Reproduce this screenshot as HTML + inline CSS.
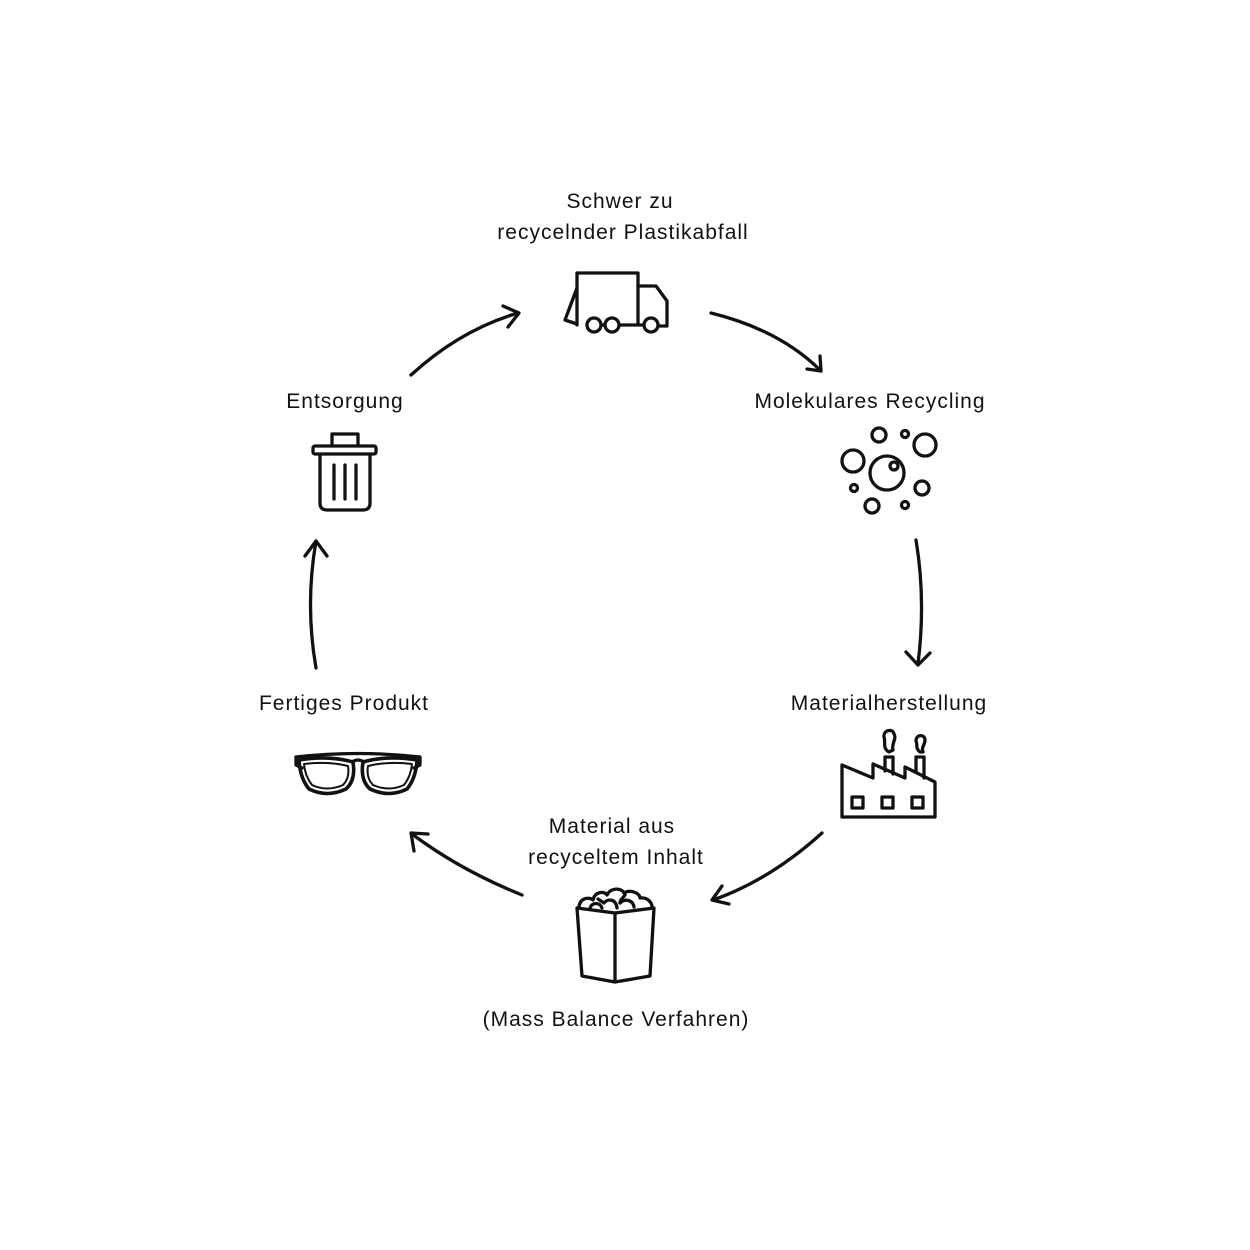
<!DOCTYPE html>
<html><head><meta charset="utf-8"><style>
html,body{margin:0;padding:0;background:#fff}
svg{display:block}
text{font-family:"Liberation Sans",sans-serif;font-size:21px;letter-spacing:1px;fill:#111}
</style></head><body>
<svg width="1250" height="1250" viewBox="0 0 1250 1250" xmlns="http://www.w3.org/2000/svg">
<g text-anchor="middle">
<text x="620" y="208">Schwer zu</text>
<text x="623" y="239">recycelnder Plastikabfall</text>
<text x="870" y="408">Molekulares Recycling</text>
<text x="889" y="710">Materialherstellung</text>
<text x="612" y="833">Material aus</text>
<text x="616" y="864">recyceltem Inhalt</text>
<text x="616" y="1026">(Mass Balance Verfahren)</text>
<text x="344" y="710">Fertiges Produkt</text>
<text x="345" y="408">Entsorgung</text>
</g>
<g fill="none" stroke="#111" stroke-width="3.3" stroke-linecap="round" stroke-linejoin="round">
<path d="M411 375 Q460 330 518 313"/><path d="M503 306 L519 313 L508 327"/>
<path d="M711 313 Q780 330 821 371"/><path d="M807 369 L821 371 L820 356"/>
<path d="M916 540 Q926 600 918 664"/><path d="M906 652 L918 665 L930 653"/>
<path d="M822 833 Q770 880 713 900"/><path d="M722 886 L712 900 L729 904"/>
<path d="M522 895 Q460 870 412 834"/><path d="M414 851 L411 833 L428 834"/>
<path d="M316 668 Q305 605 316 541"/><path d="M305 556 L316 541 L327 556"/>
<path d="M577 325 V273 H638 V325"/>
<path d="M577 288 L565 320 L577 324"/>
<path d="M638 286 H656 L667 301 V326 H659"/>
<path d="M601 325 H605 M619 325 H644"/>
<circle cx="594" cy="325" r="7"/><circle cx="612" cy="325" r="7"/><circle cx="651" cy="325" r="7"/>
<circle cx="887" cy="473" r="17"/><circle cx="894" cy="466" r="4"/>
<circle cx="879" cy="435" r="7"/><circle cx="905" cy="434" r="3.5"/>
<circle cx="925" cy="445" r="11"/><circle cx="853" cy="461" r="11"/>
<circle cx="854" cy="488" r="3.5"/><circle cx="922" cy="488" r="7"/>
<circle cx="872" cy="506" r="7"/><circle cx="905" cy="505" r="3.5"/>
<path d="M842 765 V817 H935 V782 L905 767 V778 L873 764 V778 L842 765"/>
<path d="M885 771 V757 H893 V774 M916 772 V757 H924 V778"/>
<path d="M889 752 C882 748 886 742 884 737 C883 730 893 728 894 734 C897 739 891 744 893 750 Z"/>
<path d="M920 752 C915 748 918 745 916 741 C916 734 925 734 925 740 C925 745 921 747 923 752 Z"/>
<rect x="852" y="797" width="11" height="11"/><rect x="882" y="797" width="11" height="11"/><rect x="912" y="797" width="11" height="11"/>
<path d="M577 908 L615 913 L654 908 L650 976 L615 982 L582 976 Z"/>
<path d="M615 913 V982"/>
<path d="M579 907 C580 897 590 897 593 900 C595 891 605 891 607 895 C611 887 622 888 624 893 C630 889 640 893 640 898 C648 897 652 903 652 907"/>
<path d="M590 908 C592 902 600 902 602 908 M604 903 C608 898 616 899 617 908 M620 903 C625 898 633 900 634 907 M598 899 L604 903 M625 895 C622 899 620 900 620 903"/>
<path d="M332 446 V434 H358 V446"/>
<rect x="313" y="446" width="63" height="8" rx="2"/>
<path d="M320 455 V503 Q320 510 327 510 H363 Q370 510 370 503 V455"/>
<path d="M334 465 V499 M345 465 V499 M356 465 V499"/>
<path d="M296 757 Q358 750 420 757 V765 L414 768"/>
<path d="M296 757 V765 L302 768"/>
<path d="M299 760 Q328 755 353 762 Q356 780 346 789 Q327 798 309 789 Q300 778 299 760 Z" stroke-width="3.6"/>
<path d="M417 760 Q388 755 363 762 Q360 780 370 789 Q389 798 407 789 Q416 778 417 760 Z" stroke-width="3.6"/>
<path d="M304 764 Q328 761 348 766 Q350 778 343 785 Q327 792 312 785 Q305 776 304 764 Z" stroke-width="2"/>
<path d="M412 764 Q388 761 368 766 Q366 778 373 785 Q389 792 404 785 Q411 776 412 764 Z" stroke-width="2"/>
<path d="M352 762 Q358 758 364 762"/>
</g>
</svg>
</body></html>
